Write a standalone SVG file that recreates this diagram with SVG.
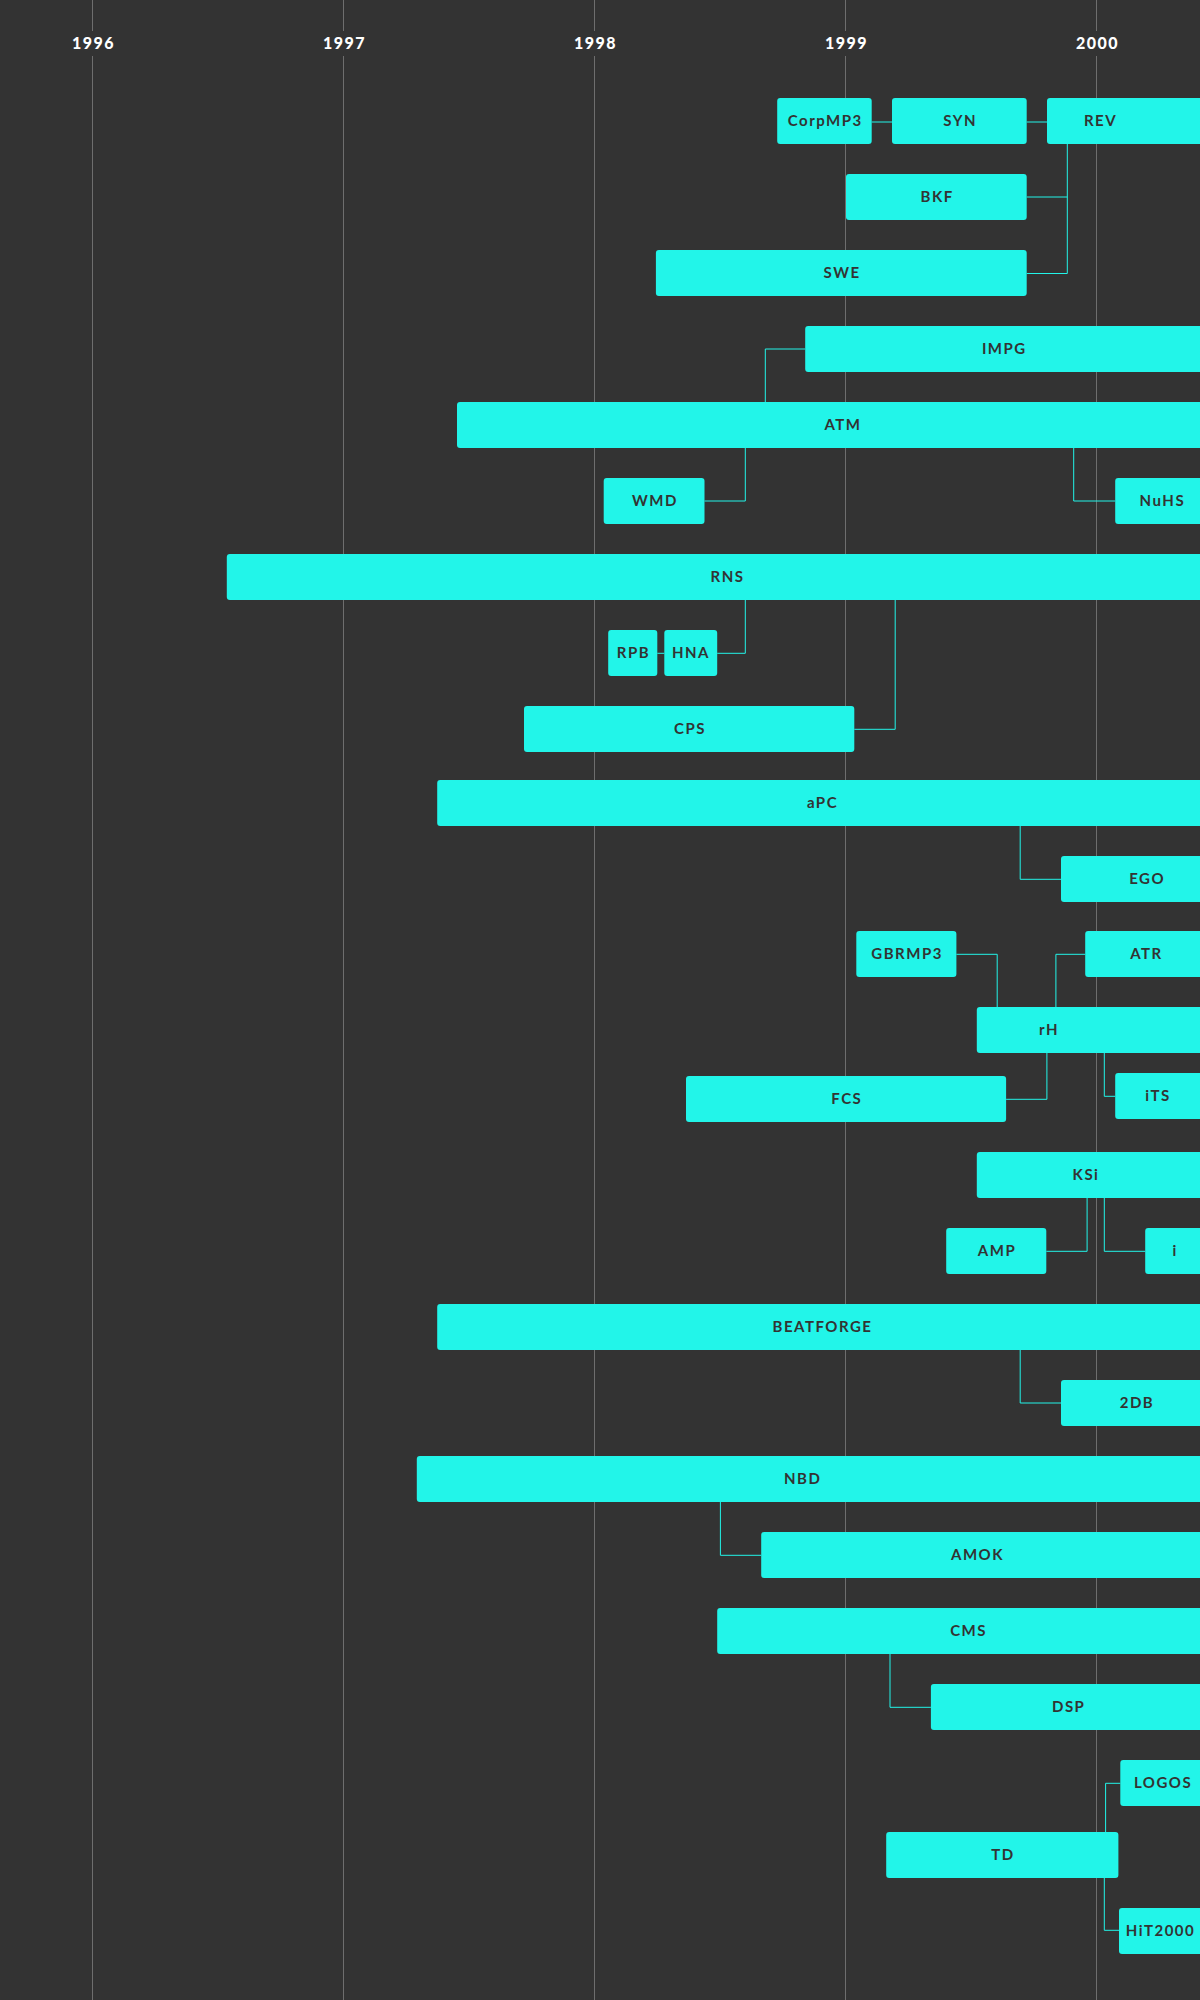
<svg xmlns="http://www.w3.org/2000/svg" width="1200" height="2000" viewBox="0 0 1200 2000">
<style>
.bg{fill:#333333}
.grid line{stroke:#6e6e6e;stroke-width:1}
.year{fill:#ffffff;font-family:Lato,"Liberation Sans",sans-serif;font-weight:900;font-size:16px;letter-spacing:1.5px;text-anchor:middle}
.node rect{fill:#22f5e9}
.node text{fill:#333333;font-family:Lato,"Liberation Sans",sans-serif;font-weight:700;font-size:15px;letter-spacing:1.5px;text-anchor:middle}
.conn path{stroke:#22f5e9;stroke-width:1;fill:none}
</style>
<rect class="bg" x="0" y="0" width="1200" height="2000"/>
<g class="grid">
<line x1="92.5" y1="0" x2="92.5" y2="31"/><line x1="92.5" y1="56" x2="92.5" y2="2000"/>
<line x1="343.5" y1="0" x2="343.5" y2="31"/><line x1="343.5" y1="56" x2="343.5" y2="2000"/>
<line x1="594.5" y1="0" x2="594.5" y2="31"/><line x1="594.5" y1="56" x2="594.5" y2="2000"/>
<line x1="845.5" y1="0" x2="845.5" y2="31"/><line x1="845.5" y1="56" x2="845.5" y2="2000"/>
<line x1="1096.5" y1="0" x2="1096.5" y2="31"/><line x1="1096.5" y1="56" x2="1096.5" y2="2000"/>
</g>
<g id="years">
<text class="year" x="93.5" y="49">1996</text>
<text class="year" x="344.5" y="49">1997</text>
<text class="year" x="595.5" y="49">1998</text>
<text class="year" x="846.5" y="49">1999</text>
<text class="year" x="1097.5" y="49">2000</text>
</g>
<g class="conn" id="connectors">
<path d="M871.7,122 H892"/>
<path d="M1026.7,122 H1047"/>
<path d="M1067.3,144 V273.5 H1026.7"/>
<path d="M1067.3,197 H1026.7"/>
<path d="M805.2,349 H765.3 V402"/>
<path d="M745.3,448 V501 H704.5"/>
<path d="M1073.7,448 V501 H1115.2"/>
<path d="M745.3,600 V653.3 H717.2"/>
<path d="M657.3,653.3 H664.3"/>
<path d="M895.2,600 V729.3 H854.3"/>
<path d="M1020.2,826 V879.3 H1061"/>
<path d="M956.4,954.3 H997.2 V1007"/>
<path d="M1085.2,954.3 H1055.9 V1007"/>
<path d="M1046.9,1053 V1099.3 H1006.1"/>
<path d="M1104.3,1053 V1096.3 H1115.2"/>
<path d="M1087.1,1198 V1251.3 H1046.3"/>
<path d="M1104.3,1198 V1251.3 H1145.2"/>
<path d="M1020.2,1350 V1403 H1061"/>
<path d="M720.4,1502 V1555.3 H761.2"/>
<path d="M890,1654 V1707.3 H930.9"/>
<path d="M1105.6,1832 V1783.3 H1120.3"/>
<path d="M1104.3,1878 V1930.3 H1119"/>
</g>
<g class="node" id="CorpMP3"><rect x="777.2" y="98" width="94.5" height="46" rx="3"/><text x="825.3" y="126.4">CorpMP3</text></g>
<g class="node" id="SYN"><rect x="892" y="98" width="134.7" height="46" rx="3"/><text x="960.2" y="126.4">SYN</text></g>
<g class="node" id="REV"><rect x="1047" y="98" width="163" height="46" rx="3"/><text x="1100.5" y="126.4">REV</text></g>
<g class="node" id="BKF"><rect x="846" y="174" width="180.7" height="46" rx="3"/><text x="937.2" y="202.4">BKF</text></g>
<g class="node" id="SWE"><rect x="655.9" y="250" width="370.8" height="46" rx="3"/><text x="842.1" y="278.4">SWE</text></g>
<g class="node" id="IMPG"><rect x="805.2" y="326" width="404.8" height="46" rx="3"/><text x="1004.3" y="354.4">IMPG</text></g>
<g class="node" id="ATM"><rect x="457" y="402" width="753" height="46" rx="3"/><text x="843" y="430.4">ATM</text></g>
<g class="node" id="WMD"><rect x="603.7" y="478" width="100.8" height="46" rx="3"/><text x="654.9" y="506.4">WMD</text></g>
<g class="node" id="NuHS"><rect x="1115.2" y="478" width="94.8" height="46" rx="3"/><text x="1162.4" y="506.4">NuHS</text></g>
<g class="node" id="RNS"><rect x="226.8" y="554" width="983.2" height="46" rx="3"/><text x="727.5" y="582.4">RNS</text></g>
<g class="node" id="RPB"><rect x="608.2" y="630" width="49.1" height="46" rx="3"/><text x="633.5" y="658.4">RPB</text></g>
<g class="node" id="HNA"><rect x="664.3" y="630" width="52.9" height="46" rx="3"/><text x="691" y="658.4">HNA</text></g>
<g class="node" id="CPS"><rect x="524" y="706" width="330.3" height="46" rx="3"/><text x="690" y="734.4">CPS</text></g>
<g class="node" id="aPC"><rect x="437.2" y="780" width="772.8" height="46" rx="3"/><text x="822.5" y="808.4">aPC</text></g>
<g class="node" id="EGO"><rect x="1061" y="856" width="149" height="46" rx="3"/><text x="1147.1" y="884.4">EGO</text></g>
<g class="node" id="GBRMP3"><rect x="856.3" y="931" width="100.1" height="46" rx="3"/><text x="907.1" y="959.4">GBRMP3</text></g>
<g class="node" id="ATR"><rect x="1085.2" y="931" width="124.8" height="46" rx="3"/><text x="1146.5" y="959.4">ATR</text></g>
<g class="node" id="rH"><rect x="976.8" y="1007" width="233.2" height="46" rx="3"/><text x="1049" y="1035.4">rH</text></g>
<g class="node" id="FCS"><rect x="686" y="1076" width="320.1" height="46" rx="3"/><text x="846.8" y="1104.4">FCS</text></g>
<g class="node" id="iTS"><rect x="1115.2" y="1073" width="94.8" height="46" rx="3"/><text x="1158" y="1101.4">iTS</text></g>
<g class="node" id="KSi"><rect x="976.8" y="1152" width="233.2" height="46" rx="3"/><text x="1086" y="1180.4">KSi</text></g>
<g class="node" id="AMP"><rect x="946.2" y="1228" width="100.1" height="46" rx="3"/><text x="997" y="1256.4">AMP</text></g>
<g class="node" id="i"><rect x="1145.2" y="1228" width="64.8" height="46" rx="3"/><text x="1175.2" y="1256.4">i</text></g>
<g class="node" id="BEATFORGE"><rect x="437.2" y="1304" width="772.8" height="46" rx="3"/><text x="822.5" y="1332.4">BEATFORGE</text></g>
<g class="node" id="2DB"><rect x="1061" y="1380" width="149" height="46" rx="3"/><text x="1137" y="1408.4">2DB</text></g>
<g class="node" id="NBD"><rect x="416.8" y="1456" width="793.2" height="46" rx="3"/><text x="802.7" y="1484.4">NBD</text></g>
<g class="node" id="AMOK"><rect x="761.2" y="1532" width="448.8" height="46" rx="3"/><text x="977.5" y="1560.4">AMOK</text></g>
<g class="node" id="CMS"><rect x="717.2" y="1608" width="492.8" height="46" rx="3"/><text x="968.6" y="1636.4">CMS</text></g>
<g class="node" id="DSP"><rect x="930.9" y="1684" width="279.1" height="46" rx="3"/><text x="1068.7" y="1712.4">DSP</text></g>
<g class="node" id="LOGOS"><rect x="1120.3" y="1760" width="89.7" height="46" rx="3"/><text x="1163.1" y="1788.4">LOGOS</text></g>
<g class="node" id="TD"><rect x="886.2" y="1832" width="232.2" height="46" rx="3"/><text x="1003" y="1860.4">TD</text></g>
<g class="node" id="HiT2000"><rect x="1119" y="1908" width="91" height="46" rx="3"/><text x="1160.5" y="1936.4">HiT2000</text></g>
</svg>
